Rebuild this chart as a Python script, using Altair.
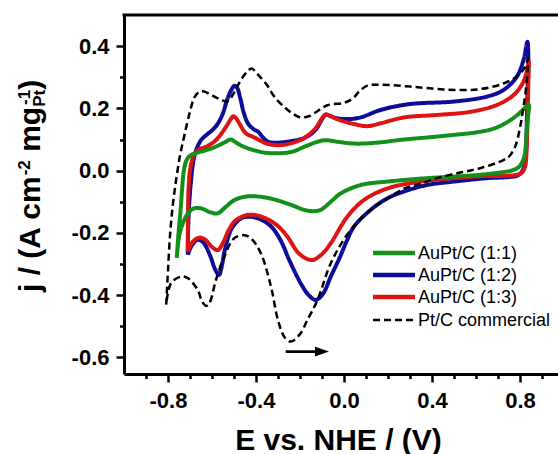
import altair as alt
import pandas as pd

# ---- series -------------------------------------------------------------
series_names = ["AuPt/C (1:1)", "AuPt/C (1:2)", "AuPt/C (1:3)", "Pt/C commercial"]
series_colors = ["#12901a", "#0c0c98", "#dd1414", "#000000"]

# AuPt/C (1:1): anodic sweep then cathodic sweep (E in V, j in A cm-2 mgPt-1)
e_11 = [-0.760, -0.752, -0.742, -0.735, -0.728, -0.715, -0.700, -0.680, -0.640, -0.590,
        -0.545, -0.515, -0.490, -0.465, -0.420, -0.360, -0.290, -0.230, -0.180, -0.120,
        -0.085, -0.030, 0.050, 0.150, 0.270, 0.400, 0.500, 0.600, 0.680, 0.740,
        0.790, 0.820, 0.840,
        0.836, 0.831, 0.825, 0.815, 0.795, 0.760, 0.720, 0.650, 0.570, 0.378,
        0.197, 0.076, -0.015, -0.060, -0.106, -0.140, -0.180, -0.240, -0.330, -0.410,
        -0.460, -0.500, -0.540, -0.575, -0.610, -0.650, -0.685, -0.712, -0.730, -0.748,
        -0.760]
j_11 = [-0.280, -0.200, -0.120, -0.050, 0.000, 0.035, 0.048, 0.055, 0.063, 0.075,
        0.090, 0.100, 0.090, 0.080, 0.068, 0.058, 0.056, 0.062, 0.077, 0.093,
        0.098, 0.093, 0.087, 0.090, 0.100, 0.108, 0.115, 0.123, 0.135, 0.155,
        0.180, 0.200, 0.212,
        0.170, 0.130, 0.070, 0.035, 0.012, 0.000, -0.005, -0.011, -0.016, -0.024,
        -0.035, -0.046, -0.073, -0.100, -0.126, -0.130, -0.126, -0.110, -0.090, -0.082,
        -0.085, -0.095, -0.118, -0.137, -0.133, -0.121, -0.122, -0.140, -0.165, -0.205,
        -0.280]

# AuPt/C (1:2)
e_12 = [-0.710, -0.708, -0.703, -0.695, -0.685, -0.672, -0.650, -0.620, -0.597, -0.570,
        -0.550, -0.530, -0.510, -0.497, -0.485, -0.472, -0.455, -0.435, -0.410, -0.390,
        -0.370, -0.345, -0.300, -0.240, -0.180, -0.130, -0.100, -0.083, -0.060, -0.030,
        0.030, 0.080, 0.166, 0.300, 0.500, 0.650, 0.725, 0.786, 0.816, 0.834,
        0.838, 0.834, 0.830, 0.825, 0.812, 0.790, 0.755, 0.650, 0.500, 0.378,
        0.272, 0.197, 0.121, 0.045, 0.015, -0.020, -0.060, -0.095, -0.128, -0.160,
        -0.190, -0.220, -0.250, -0.287, -0.330, -0.380, -0.425, -0.465, -0.492, -0.515,
        -0.540, -0.558, -0.568, -0.585, -0.610, -0.640, -0.665, -0.690, -0.710]
j_12 = [-0.270, -0.180, -0.100, -0.030, 0.030, 0.066, 0.098, 0.118, 0.131, 0.155,
        0.185, 0.230, 0.262, 0.273, 0.265, 0.235, 0.185, 0.150, 0.133, 0.125,
        0.108, 0.093, 0.090, 0.095, 0.105, 0.130, 0.165, 0.180, 0.175, 0.168,
        0.166, 0.172, 0.195, 0.214, 0.222, 0.238, 0.259, 0.302, 0.355, 0.414,
        0.370, 0.250, 0.120, 0.040, 0.000, -0.015, -0.020, -0.024, -0.035, -0.046,
        -0.067, -0.089, -0.126, -0.180, -0.222, -0.280, -0.340, -0.395, -0.415, -0.400,
        -0.370, -0.330, -0.285, -0.225, -0.180, -0.156, -0.148, -0.152, -0.168, -0.192,
        -0.250, -0.315, -0.335, -0.318, -0.270, -0.230, -0.222, -0.238, -0.270]

# AuPt/C (1:3)
e_13 = [-0.710, -0.709, -0.706, -0.698, -0.685, -0.665, -0.627, -0.600, -0.574, -0.536,
        -0.515, -0.503, -0.490, -0.476, -0.446, -0.408, -0.355, -0.300, -0.240, -0.181,
        -0.130, -0.100, -0.083, -0.060, -0.030, 0.045, 0.106, 0.166, 0.272, 0.423,
        0.574, 0.695, 0.771, 0.816, 0.834, 0.840,
        0.838, 0.834, 0.830, 0.822, 0.805, 0.755, 0.650, 0.500, 0.348, 0.197,
        0.091, 0.015, -0.060, -0.100, -0.143, -0.175, -0.210, -0.257, -0.300, -0.350,
        -0.400, -0.438, -0.470, -0.499, -0.525, -0.550, -0.574, -0.600, -0.630, -0.657,
        -0.687, -0.710]
j_13 = [-0.260, -0.150, -0.050, 0.010, 0.045, 0.066, 0.077, 0.088, 0.104, 0.141,
        0.165, 0.175, 0.168, 0.152, 0.120, 0.107, 0.088, 0.082, 0.088, 0.105,
        0.135, 0.168, 0.180, 0.175, 0.165, 0.150, 0.143, 0.152, 0.171, 0.179,
        0.189, 0.211, 0.243, 0.286, 0.330, 0.352,
        0.280, 0.150, 0.060, 0.010, -0.008, -0.016, -0.017, -0.024, -0.035, -0.057,
        -0.094, -0.148, -0.233, -0.268, -0.287, -0.281, -0.262, -0.212, -0.178, -0.155,
        -0.143, -0.142, -0.150, -0.164, -0.192, -0.232, -0.255, -0.245, -0.222, -0.215,
        -0.228, -0.260]

# Pt/C commercial
e_pt = [-0.808, -0.800, -0.790, -0.778, -0.763, -0.745, -0.725, -0.700, -0.680, -0.660,
        -0.640, -0.600, -0.560, -0.530, -0.500, -0.470, -0.440, -0.420, -0.390, -0.350,
        -0.317, -0.272, -0.230, -0.196, -0.160, -0.136, -0.075, 0.000, 0.040, 0.070,
        0.106, 0.166, 0.302, 0.453, 0.605, 0.725, 0.793, 0.824, 0.836,
        0.830, 0.816, 0.801, 0.778, 0.750, 0.725, 0.620, 0.529, 0.423, 0.348,
        0.272, 0.197, 0.140, 0.076, 0.015, -0.060, -0.120, -0.166, -0.200, -0.242,
        -0.270, -0.300, -0.332, -0.378, -0.423, -0.453, -0.499, -0.544, -0.582, -0.612,
        -0.627, -0.645, -0.665, -0.710, -0.740, -0.786, -0.808]
j_pt = [-0.430, -0.320, -0.200, -0.110, -0.030, 0.050, 0.115, 0.190, 0.235, 0.252,
        0.255, 0.242, 0.228, 0.222, 0.250, 0.290, 0.318, 0.328, 0.308, 0.275,
        0.238, 0.205, 0.182, 0.171, 0.175, 0.184, 0.210, 0.218, 0.232, 0.255,
        0.273, 0.276, 0.270, 0.261, 0.261, 0.280, 0.307, 0.334, 0.360,
        0.280, 0.205, 0.141, 0.077, 0.045, 0.034, 0.008, -0.006, -0.024, -0.042,
        -0.058, -0.090, -0.115, -0.155, -0.205, -0.297, -0.415, -0.479, -0.525, -0.549,
        -0.535, -0.480, -0.372, -0.265, -0.217, -0.207, -0.217, -0.276, -0.351, -0.426,
        -0.434, -0.420, -0.383, -0.345, -0.340, -0.361, -0.430]

# scan-direction arrow (tail, tip) at a fixed current
arrow_e = [-0.265, -0.068]
arrow_j = -0.581

x_ticks = [-0.9, -0.8, -0.7, -0.6, -0.5, -0.4, -0.3, -0.2, -0.1, 0.0,
           0.1, 0.2, 0.3, 0.4, 0.5, 0.6, 0.7, 0.8, 0.9]
y_ticks = [-0.6, -0.5, -0.4, -0.3, -0.2, -0.1, 0.0, 0.1, 0.2, 0.3, 0.4]

# ---- layout -------------------------------------------------------------
W, H = 434, 359
PAD_L, PAD_T = 124, 15
X_DOMAIN = [-1.0, 0.973]
Y_DOMAIN = [-0.653, 0.5]
FONT = "Liberation Sans"

dummy = alt.Data(values=[{"k": 0}])


def loop_frame(name, es, js):
    return pd.DataFrame({"series": name, "idx": list(range(len(es))), "E": es, "j": js})


def fmt_expr(major_test):
    return (f"({major_test}) ? replace(format(datum.value, '.1f'), '\u2212', '-') : ''")


x_major = "round(datum.value * 10) % 4 == 0"
y_major = "round(datum.value * 10) % 2 == 0"

common_axis = dict(
    grid=False, domainColor="black", domainWidth=3, tickColor="black", tickWidth=2.5,
    labelFont=FONT, labelFontSize=22, labelFontWeight="bold", labelColor="black",
    labelFlush=False, labelOverlap=False,
)

x_axis = alt.Axis(
    values=x_ticks, labelExpr=fmt_expr(x_major),
    tickSize={"condition": {"test": x_major, "value": 8}, "value": 4.5},
    labelPadding=8,
    title="E vs. NHE / (V)", titleFont=FONT, titleFontSize=30, titleFontWeight="bold",
    titleColor="black", titleBaseline="alphabetic", titleY=75, titleX=214,
    **common_axis,
)
y_axis = alt.Axis(
    values=y_ticks, labelExpr=fmt_expr(y_major),
    tickSize={"condition": {"test": y_major, "value": 8}, "value": 4.5},
    labelPadding=7, title=None,
    **common_axis,
)

x_scale = alt.Scale(domain=X_DOMAIN, nice=False, zero=False)
y_scale = alt.Scale(domain=Y_DOMAIN, nice=False, zero=False)


def xq(field):
    return alt.X(field, scale=x_scale, axis=x_axis)


def yq(field):
    return alt.Y(field, scale=y_scale, axis=y_axis)


def cv_layer(name, es, js, color, width, dash):
    return alt.Chart(loop_frame(name, es, js)).mark_line(
        interpolate="catmull-rom", color=color, strokeWidth=width,
        strokeDash=dash, strokeJoin="round", strokeCap="butt",
    ).encode(x=xq("E:Q"), y=yq("j:Q"), order=alt.Order("idx:Q"))


solid = [1, 0]
dashed = [7, 4]
layers = [
    cv_layer(series_names[1], e_12, j_12, series_colors[1], 4, solid),
    cv_layer(series_names[2], e_13, j_13, series_colors[2], 4, solid),
    cv_layer(series_names[0], e_11, j_11, series_colors[0], 4, solid),
    cv_layer(series_names[3], e_pt, j_pt, series_colors[3], 2.5, dashed),
]

# scan-direction arrow
px_per_v = W / (X_DOMAIN[1] - X_DOMAIN[0])
head_len = 14
head_center = arrow_e[1] - (head_len / 2) / px_per_v
arrow_df = pd.DataFrame({"e0": [arrow_e[0]], "e1": [head_center], "j": [arrow_j]})
layers.append(
    alt.Chart(arrow_df).mark_rule(color="black", strokeWidth=2.6).encode(
        x=xq("e0:Q"), x2="e1:Q", y=yq("j:Q"),
    )
)
layers.append(
    alt.Chart(arrow_df).mark_point(
        shape="M -1 -0.7 L 1 0 L -1 0.7 Z", filled=True, size=head_len ** 2,
        color="black", opacity=1, strokeWidth=0,
    ).encode(x=xq("e1:Q"), y=yq("j:Q"))
)

# top frame line
layers.append(
    alt.Chart(dummy).mark_rule(color="black", strokeWidth=3).encode(
        x=alt.value(-1.5), x2=alt.value(W), y=alt.value(0)
    )
)

# legend (line sample + label per row)
legend_rows = [238, 260, 282, 305]
for name, color, row in zip(series_names, series_colors, legend_rows):
    is_pt = name.startswith("Pt")
    layers.append(
        alt.Chart(dummy).mark_rule(
            color=color, strokeWidth=2.5 if is_pt else 4.5,
            strokeDash=dashed if is_pt else solid,
        ).encode(x=alt.value(249), x2=alt.value(291), y=alt.value(row))
    )
    layers.append(
        alt.Chart(dummy).mark_text(
            text=name, font=FONT, fontSize=18, color="black",
            align="left", baseline="middle",
        ).encode(x=alt.value(294), y=alt.value(row + 1))
    )

# rotated y-axis title built from pieces (super/subscripts)
ADV = {"j": 0.278, " ": 0.278, "/": 0.278, "(": 0.333, "A": 0.722, "c": 0.556,
       "m": 0.889, "g": 0.611, ")": 0.333, "-": 0.333, "2": 0.556, "1": 0.556,
       "P": 0.667, "t": 0.333}


def adv(text, size):
    return sum(ADV[ch] for ch in text) * size


BIG, SMALL = 30, 17
base_x = 40 - PAD_L
sup_x = base_x - 10
sub_x = base_x + 5
pieces = []
y0 = 292 - PAD_T
pieces.append(("j / (A cm", base_x, y0, BIG))
y0 -= adv("j / (A cm", BIG)
pieces.append(("-2", sup_x, y0, SMALL))
y0 -= adv("-2", SMALL) + adv(" ", BIG)
pieces.append(("mg", base_x, y0, BIG))
y0 -= adv("mg", BIG)
pieces.append(("Pt", sub_x, y0, SMALL))
pieces.append(("-1", sup_x, y0 - (adv("Pt", SMALL) - adv("-1", SMALL)), SMALL))
y0 -= adv("Pt", SMALL)
pieces.append((")", base_x, y0, BIG))

for text, px, py, size in pieces:
    layers.append(
        alt.Chart(dummy).mark_text(
            text=text, font=FONT, fontSize=size, fontWeight="bold", color="black",
            angle=270, align="left", baseline="alphabetic",
        ).encode(x=alt.value(px), y=alt.value(py))
    )

chart = alt.layer(*layers).properties(
    width=W, height=H,
    padding={"left": PAD_L, "top": PAD_T, "right": 0, "bottom": 454 - PAD_T - H},
    autosize=alt.AutoSizeParams(type="none"),
    background="white",
).configure_view(stroke=None)

chart.save("out.html", embed_options={"renderer": "svg", "actions": False})
